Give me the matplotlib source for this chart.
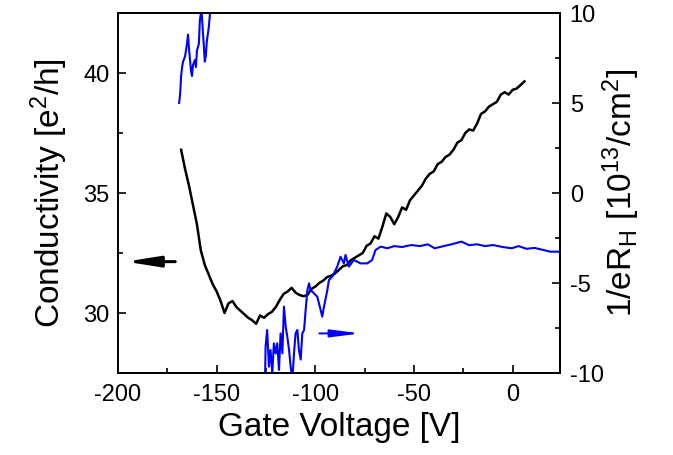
import numpy as np
import matplotlib
matplotlib.use('Agg')
import matplotlib.pyplot as plt

plt.rcParams['font.family'] = ['Liberation Sans', 'DejaVu Sans']
plt.rcParams['mathtext.fontset'] = 'custom'
plt.rcParams['mathtext.rm'] = 'Liberation Sans'
plt.rcParams['axes.unicode_minus'] = False

#%% data
# conductivity (left axis) vs gate voltage
v_sigma = [-168, -166, -164, -162, -160, -158, -156, -154, -152, -150,
           -148, -146, -144, -142, -140, -138, -136, -134, -132, -130,
           -128, -126, -124, -122, -120, -118, -116, -114, -112, -110,
           -108, -106, -104, -102, -100, -98, -96, -94, -92, -90,
           -88, -86, -84, -82, -80, -78, -76, -74, -72, -70,
           -68, -66, -64, -62, -60, -58, -56, -54, -52, -50,
           -48, -46, -44, -42, -40, -38, -36, -34, -32, -30,
           -28, -26, -24, -22, -20, -18, -16, -14, -12, -10,
           -8, -6, -4, -2, 0, 2, 4, 6]
sigma = [36.8, 36.0, 35.3, 34.5, 33.7, 32.6, 32.0, 31.6, 31.2, 30.9,
         30.5, 30.0, 30.4, 30.5, 30.25, 30.1, 29.95, 29.8, 29.7, 29.55,
         29.9, 29.8, 29.95, 30.05, 30.25, 30.55, 30.8, 30.9, 31.05, 30.85,
         30.75, 30.7, 30.75, 31.0, 31.1, 31.25, 31.35, 31.5, 31.55, 31.65,
         31.8, 31.95, 32.0, 32.2, 32.3, 32.4, 32.5, 32.8, 32.9, 33.2,
         33.1, 33.6, 34.15, 34.0, 33.7, 34.0, 34.4, 34.3, 34.7, 34.9,
         35.1, 35.3, 35.6, 35.8, 35.9, 36.2, 36.3, 36.5, 36.6, 36.8,
         37.1, 37.2, 37.5, 37.65, 37.6, 37.9, 38.3, 38.4, 38.6, 38.7,
         38.8, 39.1, 39.2, 39.1, 39.3, 39.35, 39.5, 39.65]

# 1/eR_H (right axis) vs gate voltage, NaN where the curve leaves the frame
v_hall = [-169, -168.5, -168, -167.5, -167, -166, -165, -164.5, -164, -163.5,
          -163, -162.5, -162, -161, -160.5, -160, -159, -158.5, -158, -157.5,
          -157, -156.5, -156, -155.5, -155, -154, -153.5, -153, -140,
          -125.5, -125.2, -124.4, -123.5, -122.7, -121.8, -121.0, -120.1, -119.3, -118.4,
          -117.6, -116.7, -115.9, -115.0, -114.2, -113.3, -112.5, -111.6, -110.8, -110.0,
          -109.1, -108.3, -107.4, -106.6, -105.7, -104.9, -104.0, -103.2, -102.4, -100.7,
          -99.0, -97.3, -96.5, -95.6, -93.9, -93.1, -91.4, -88.9, -87.2, -85.5,
          -84.7, -83.0, -80.5, -77.1, -73.7, -71.2, -69.5, -66.9, -63.5, -60,
          -56, -51.4, -47, -43, -39.5, -35, -31, -26, -22, -18,
          -14, -10, -5, -0.5, 3, 7, 11, 15, 19, 23]
hall = [5.0, 5.5, 6.5, 7.0, 7.3, 7.6, 8.3, 8.8, 8.0, 7.4,
        6.8, 6.5, 7.1, 7.4, 7.0, 7.9, 8.3, 9.6, 10.0, 9.9,
        9.0, 8.2, 7.3, 7.6, 8.4, 9.2, 9.8, 10.5, np.nan,
        -10.5, -8.54, -7.61, -9.65, -8.72, -10.02, -8.35, -8.91, -8.35, -9.83,
        -7.80, -8.91, -6.31, -7.43, -7.98, -8.72, -9.65, -10.3, -8.91, -7.80,
        -7.61, -8.72, -9.25, -7.80, -7.61, -6.5, -5.39, -5.02, -5.39, -5.57,
        -5.76, -6.5, -6.87, -6.31, -5.39, -4.83, -4.65, -4.09, -3.54, -3.91,
        -3.44, -4.09, -3.72, -3.91, -3.91, -3.72, -3.17, -2.98, -3.07, -2.95,
        -3.0, -2.89, -2.95, -2.85, -3.07, -2.95, -2.85, -2.70, -2.9, -2.85,
        -2.95, -2.89, -3.0, -3.07, -2.95, -3.1, -3.05, -3.15, -3.26, -3.26]

#%% plot
fig = plt.figure(figsize=(6.73, 4.55), dpi=100)
ax = fig.add_axes([0.1753, 0.1802, 0.6568, 0.7912])
ax2 = ax.twinx()

ax.plot(v_sigma, sigma, color='black', lw=1.8)
ax2.plot(v_hall, hall, color='#0000ff', lw=1.5)

ax.set_xlim(-200, 24)
ax.set_ylim(27.5, 42.5)
ax2.set_ylim(-10, 10)

ax.set_xticks([-200, -150, -100, -50, 0])
ax.set_xticks(np.arange(-175, 25, 50), minor=True)
ax.set_yticks([30, 35, 40])
ax.set_yticks([32.5, 37.5], minor=True)
ax2.set_yticks([-10, -5, 0, 5, 10])
ax2.set_yticks([-7.5, -2.5, 2.5, 7.5], minor=True)

for a in (ax, ax2):
    a.tick_params(which='both', direction='in', labelsize=17, width=1.2)
    a.tick_params(which='major', length=6)
    a.tick_params(which='minor', length=3.5)
    for s in a.spines.values():
        s.set_linewidth(1.4)
ax.tick_params(axis='y', pad=6, right=False)
ax.tick_params(axis='x', pad=8, top=False)
ax2.tick_params(axis='y', pad=7)

ax.annotate('', xy=(-196, 32.14), xytext=(-171, 32.14),
            arrowprops=dict(arrowstyle='-|>,head_length=1.0,head_width=0.16',
                            color='black', lw=2.2, mutation_scale=20,
                            shrinkA=0, shrinkB=0))
ax2.annotate('', xy=(-77, -7.8), xytext=(-98, -7.8),
             arrowprops=dict(arrowstyle='-|>,head_length=1.1,head_width=0.14',
                             color='#0000ff', lw=1.4, mutation_scale=16,
                             shrinkA=0, shrinkB=0))

ax.set_xlabel('Gate Voltage [V]', fontsize=24, labelpad=4)
ax.set_ylabel(r'Conductivity [e$\mathregular{^2}$/h]', fontsize=24, labelpad=10)
ax2.set_ylabel(r'1/eR$\mathregular{_H}$ [10$\mathregular{^{13}}$/cm$\mathregular{^2}$]', fontsize=24, labelpad=-2)

plt.savefig('out.png', dpi=100)
